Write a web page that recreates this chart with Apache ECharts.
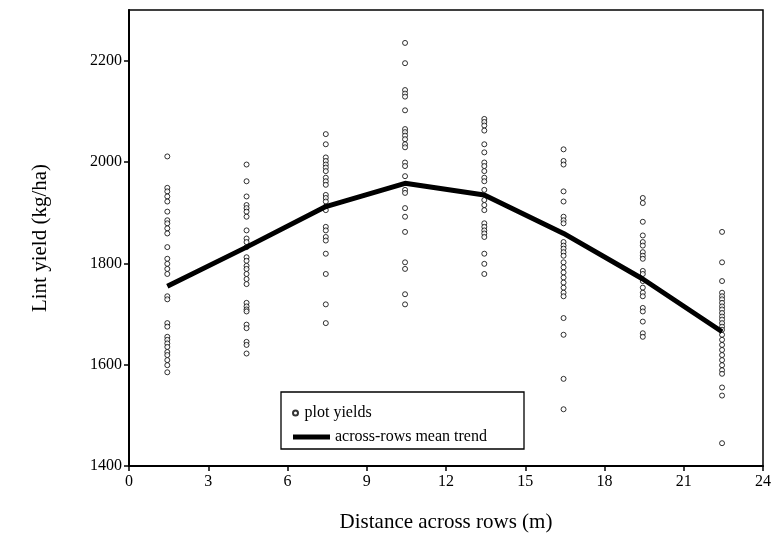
<!DOCTYPE html>
<html>
<head>
<meta charset="utf-8">
<script src="https://cdn.jsdelivr.net/npm/echarts@6/dist/echarts.min.js"></script>
<style>
  html, body { margin: 0; padding: 0; background: #fff; }
  #chart { width: 775px; height: 547px; }
</style>
</head>
<body>
<div id="chart"></div>
<script>
// row positions (m) of the sampled plots
let rowPositions = [1.45, 4.45, 7.45, 10.45, 13.45, 16.45, 19.45, 22.45];

// plot yields (kg/ha) per row position
let yieldsRow1 = [2011, 1949, 1942, 1932, 1922, 1902, 1885, 1879, 1869, 1859, 1832, 1809, 1799, 1789, 1779, 1735, 1729, 1682, 1675, 1655, 1649, 1642, 1635, 1625, 1619, 1609, 1599, 1585];
let yieldsRow2 = [1995, 1962, 1932, 1915, 1909, 1902, 1892, 1865, 1849, 1842, 1832, 1812, 1805, 1795, 1789, 1779, 1769, 1759, 1722, 1715, 1709, 1705, 1679, 1672, 1645, 1639, 1622];
let yieldsRow3 = [2055, 2035, 2009, 2002, 1995, 1989, 1982, 1969, 1962, 1955, 1935, 1929, 1922, 1912, 1905, 1872, 1865, 1852, 1845, 1819, 1779, 1719, 1682];
let yieldsRow4 = [2235, 2195, 2142, 2135, 2129, 2102, 2065, 2059, 2052, 2045, 2035, 2029, 1999, 1992, 1972, 1945, 1939, 1909, 1892, 1862, 1802, 1789, 1739, 1719];
let yieldsRow5 = [2085, 2079, 2072, 2062, 2035, 2019, 1999, 1992, 1982, 1969, 1962, 1945, 1925, 1915, 1905, 1879, 1872, 1865, 1859, 1852, 1819, 1799, 1779];
let yieldsRow6 = [2025, 2002, 1995, 1942, 1922, 1892, 1885, 1879, 1842, 1835, 1829, 1822, 1815, 1802, 1792, 1782, 1772, 1762, 1752, 1742, 1735, 1692, 1659, 1572, 1512];
let yieldsRow7 = [1929, 1919, 1882, 1855, 1842, 1835, 1822, 1815, 1809, 1785, 1779, 1765, 1752, 1742, 1735, 1712, 1705, 1685, 1662, 1655];
let yieldsRow8 = [1862, 1802, 1765, 1742, 1735, 1729, 1722, 1715, 1709, 1702, 1695, 1689, 1682, 1675, 1669, 1659, 1649, 1639, 1629, 1619, 1609, 1599, 1589, 1582, 1555, 1539, 1445];

// across-rows mean trend
let meanTrend = [1755, 1832, 1912, 1958, 1935, 1859, 1769, 1665];

let xTicks = [0, 3, 6, 9, 12, 15, 18, 21, 24];
let yTicks = [1400, 1600, 1800, 2000, 2200];

let serif = 'Liberation Serif';

let allYields = [yieldsRow1, yieldsRow2, yieldsRow3, yieldsRow4, yieldsRow5, yieldsRow6, yieldsRow7, yieldsRow8];
let scatterData = [];
for (let i = 0; i < rowPositions.length; i++) {
    for (let k = 0; k < allYields[i].length; k++) {
        scatterData.push([rowPositions[i], allYields[i][k]]);
    }
}
let trendData = rowPositions.map(function (x, i) { return [x, meanTrend[i]]; });

let myChart = echarts.init(document.getElementById('chart'), null, {renderer: 'canvas'});

let option = {
    backgroundColor: '#fff',
    animation: false,
    textStyle: {fontFamily: serif, color: '#000'},
    grid: {
        left: 129, right: 12, top: 10, bottom: 81,
        show: true, borderColor: '#000', borderWidth: 1.5, backgroundColor: 'transparent'
    },
    xAxis: {
        type: 'value',
        min: xTicks[0], max: xTicks[xTicks.length - 1], interval: 3,
        name: 'Distance across rows (m)',
        nameLocation: 'middle', nameGap: 46,
        nameTextStyle: {fontFamily: serif, fontSize: 21, color: '#000'},
        axisLine: {show: true, lineStyle: {color: '#000', width: 2}},
        axisTick: {show: true, inside: false, length: 5, lineStyle: {color: '#000', width: 1.5}},
        axisLabel: {fontFamily: serif, fontSize: 16, color: '#000', margin: 8},
        splitLine: {show: false}
    },
    yAxis: {
        type: 'value',
        min: 1400, max: 2300, interval: 200,
        name: 'Lint yield (kg/ha)',
        nameLocation: 'middle', nameGap: 78, nameRotate: 90,
        nameTextStyle: {fontFamily: serif, fontSize: 21, color: '#000'},
        axisLine: {show: true, lineStyle: {color: '#000', width: 2}},
        axisTick: {show: true, inside: false, length: 5, lineStyle: {color: '#000', width: 1.5}},
        axisLabel: {
            fontFamily: serif, fontSize: 16, color: '#000', margin: 7,
            showMaxLabel: false,
            formatter: function (v) { return yTicks.indexOf(v) >= 0 ? String(v) : ''; }
        },
        splitLine: {show: false}
    },
    graphic: [{
        type: 'rect',
        shape: {x: 281, y: 392, width: 243, height: 57},
        style: {fill: '#fff', stroke: '#000', lineWidth: 1.3},
        z: 50
    }],
    legend: [{
        data: [{name: 'plot yields', icon: 'circle'}],
        left: 287, top: 400,
        itemWidth: 8, itemHeight: 5,
        textStyle: {fontFamily: serif, fontSize: 16, color: '#000'},
        z: 60
    }, {
        data: [{name: 'across-rows mean trend', icon: 'rect', itemStyle: {color: '#000'}}],
        left: 288, top: 424,
        itemWidth: 37, itemHeight: 5,
        textStyle: {fontFamily: serif, fontSize: 16, color: '#000'},
        z: 60
    }],
    series: [{
        name: 'plot yields',
        type: 'scatter',
        data: scatterData,
        symbol: 'circle',
        symbolSize: 5,
        itemStyle: {color: '#fff', borderColor: '#000', borderWidth: 1},
        z: 3
    }, {
        name: 'across-rows mean trend',
        type: 'line',
        data: trendData,
        symbol: 'none',
        lineStyle: {color: '#000', width: 5},
        itemStyle: {color: '#000'},
        z: 4
    }]
};

myChart.setOption(option);
</script>
</body>
</html>
